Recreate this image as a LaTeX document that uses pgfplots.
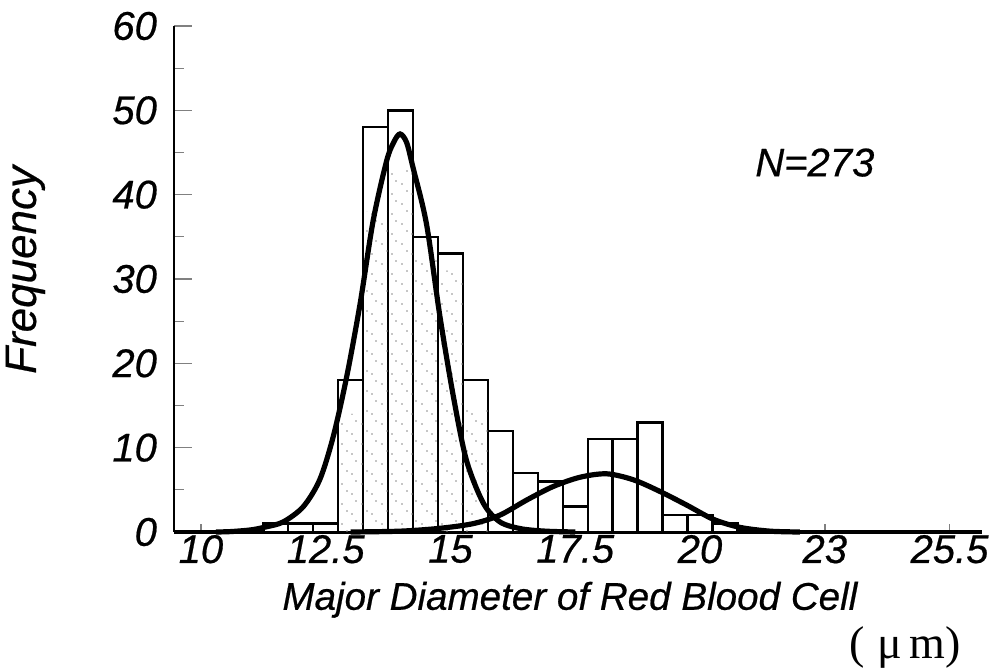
\documentclass[border=0pt]{standalone}
\usepackage{fontspec}
\setmainfont{Liberation Sans}[ItalicFeatures={FakeBold=0.5}]
\newfontfamily\serifgr{Liberation Serif}
\usepackage{pgfplots}
\pgfplotsset{compat=1.18}
\usetikzlibrary{patterns}

% sparse stipple, like the dots printed inside the middle bars
\pgfdeclarepatternformonly{stipple}{\pgfqpoint{-1pt}{-1pt}}{\pgfqpoint{11pt}{11pt}}{\pgfqpoint{10pt}{10pt}}{%
  \pgfpathcircle{\pgfqpoint{1pt}{2pt}}{0.4pt}%
  \pgfpathcircle{\pgfqpoint{6pt}{7pt}}{0.4pt}%
  \pgfpathcircle{\pgfqpoint{3.5pt}{8.5pt}}{0.4pt}%
  \pgfpathcircle{\pgfqpoint{8pt}{3.5pt}}{0.4pt}%
  \pgfusepath{fill}}

\newcommand\lbl{\fontsize{20}{24}\selectfont\itshape}

\begin{document}
\begin{tikzpicture}
\begin{axis}[
  scale only axis,
  width=404pt, height=253pt,
  xmin=9.46, xmax=25.65,
  ymin=0, ymax=60,
  axis x line*=bottom,
  axis y line*=left,
  x axis line style={line width=1.6pt},
  y axis line style={line width=1.1pt},
  tick align=inside,
  xtick={10,12.5,15,17.5,20,22.5,25},
  xticklabels={10,12.5,15,17.5,20,23,25.5},
  ytick={0,10,...,60},
  minor y tick num=1,
  major tick length=9pt,
  minor tick length=5pt,
  xtick style={/pgfplots/major tick length=4pt, line width=0.8pt},
  ytick style={line width=0.8pt},
  minor y tick style={line width=0.6pt},
  /pgf/number format/assume math mode=true,
  ticklabel style={font=\lbl},
  yticklabel style={xshift=-5pt},
  xticklabel style={yshift=2pt},
  clip=false,
]
\coordinate (O) at (rel axis cs:0,0);
\coordinate (T) at (rel axis cs:1,1);

% histogram, bin width 0.5
\addplot[ybar interval, draw=black, fill=white, line width=1.2pt] coordinates {
  (11.25,1) (11.75,1) (12.25,1) (12.75,18) (13.25,48) (13.75,50)
  (14.25,35) (14.75,33) (15.25,18) (15.75,12) (16.25,7) (16.75,6)
  (17.25,3) (17.75,11) (18.25,11) (18.75,13) (19.25,2) (19.75,2)
  (20.25,1) (20.75,1)
};
% stippled part of the bars
\addplot[ybar interval, draw=none, pattern=stipple, pattern color=gray!90] coordinates {
  (12.75,14) (13.25,38) (13.75,43) (14.25,33) (14.75,31) (15.25,15) (15.75,0)
};

% fitted curves
\addplot[black, line width=2.6pt, smooth, tension=0.5] coordinates {
  (10.3,0) (10.6,0.05) (11.0,0.25) (11.3,0.6) (11.65,1.2) (12.05,3.0)
  (12.38,6.2) (12.65,11.3) (12.92,18.4) (13.19,27.1) (13.45,36.9)
  (13.72,44.0) (13.87,46.3) (13.99,47.2) (14.12,46.2) (14.25,43.2)
  (14.52,36.5) (14.79,25.5) (15.06,16.0) (15.32,8.5) (15.66,3.4)
  (15.99,1.2) (16.4,0.4) (16.9,0.1) (17.5,0)
};
\addplot[black, line width=2.6pt, smooth, tension=0.5] coordinates {
  (13.0,0) (14.0,0.1) (14.79,0.44) (15.46,1.0) (15.99,2.0) (16.53,3.8)
  (17.06,5.4) (17.6,6.5) (18.13,6.9) (18.66,6.2) (19.2,4.8) (19.73,3.2)
  (20.27,1.5) (20.8,0.55) (21.4,0.1) (22.0,0)
};

\node[font=\lbl] at (axis cs:22.3,43.8) {N=273};
\node[font=\fontsize{19.3}{23}\selectfont\itshape] at (axis description cs:0.49,-0.134) {Major Diameter of Red Blood Cell};
\node[font=\fontsize{22}{26}\selectfont\itshape, rotate=90] at (axis description cs:-0.184,0.518) {Frequency};
\node[font=\serifgr\fontsize{23}{27}\selectfont] at (axis description cs:0.905,-0.229) {(\;μ\,m)};
\end{axis}
\pgfresetboundingbox
\path ([xshift=-87pt,yshift=-68pt]O) rectangle ([xshift=4pt,yshift=13pt]T);
\end{tikzpicture}
\end{document}
